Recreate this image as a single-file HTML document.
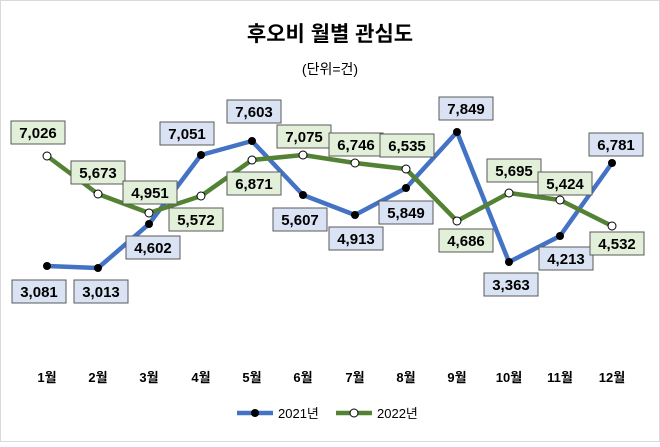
<!DOCTYPE html>
<html><head><meta charset="utf-8"><style>
body{margin:0;background:#fff}
svg text{font-family:"Liberation Sans","Noto Sans CJK KR",sans-serif}
</style></head><body>
<svg width="660" height="442" viewBox="0 0 660 442" xmlns="http://www.w3.org/2000/svg">
<rect x="0.5" y="0.5" width="659" height="441" fill="#fff" stroke="#d9d9d9"/>
<text x="330" y="41" text-anchor="middle" font-size="21" font-weight="bold" fill="#000">후오비 월별 관심도</text>
<text x="330" y="74" text-anchor="middle" font-size="14" fill="#000">(단위=건)</text>
<polyline fill="none" stroke="#4472c4" stroke-width="4.5" stroke-linejoin="round" points="47,266 98,268 149,224 201,155 252,141 303,195 355,215 406,188 457,132 509,262 560,236 612,163"/>
<polyline fill="none" stroke="#548235" stroke-width="4.5" stroke-linejoin="round" points="47,156 98,194 149,213 201,196 252,160 303,155 355,163 406,169 457,221 509,193 560,200 612,226"/>
<g fill="#000">
<circle cx="47" cy="266" r="4"/><circle cx="98" cy="268" r="4"/><circle cx="149" cy="224" r="4"/><circle cx="201" cy="155" r="4"/><circle cx="252" cy="141" r="4"/><circle cx="303" cy="195" r="4"/><circle cx="355" cy="215" r="4"/><circle cx="406" cy="188" r="4"/><circle cx="457" cy="132" r="4"/><circle cx="509" cy="262" r="4"/><circle cx="560" cy="236" r="4"/><circle cx="612" cy="163" r="4"/>
</g>
<g fill="#fff" stroke="#000" stroke-width="1">
<circle cx="47" cy="156" r="4"/><circle cx="98" cy="194" r="4"/><circle cx="149" cy="213" r="4"/><circle cx="201" cy="196" r="4"/><circle cx="252" cy="160" r="4"/><circle cx="303" cy="155" r="4"/><circle cx="355" cy="163" r="4"/><circle cx="406" cy="169" r="4"/><circle cx="457" cy="221" r="4"/><circle cx="509" cy="193" r="4"/><circle cx="560" cy="200" r="4"/><circle cx="612" cy="226" r="4"/>
</g>
<g font-size="15" font-weight="bold" text-anchor="middle" fill="#000">
<g><rect x="12" y="280" width="54" height="23" fill="#dae3f3" stroke="#595959"/><text x="39" y="297">3,081</text></g>
<g><rect x="74" y="280" width="54" height="23" fill="#dae3f3" stroke="#595959"/><text x="101" y="297">3,013</text></g>
<g><rect x="126" y="236" width="54" height="23" fill="#dae3f3" stroke="#595959"/><text x="153" y="253">4,602</text></g>
<g><rect x="160" y="122" width="54" height="23" fill="#dae3f3" stroke="#595959"/><text x="187" y="139">7,051</text></g>
<g><rect x="227" y="100" width="54" height="23" fill="#dae3f3" stroke="#595959"/><text x="254" y="117">7,603</text></g>
<g><rect x="273" y="208" width="54" height="23" fill="#dae3f3" stroke="#595959"/><text x="300" y="225">5,607</text></g>
<g><rect x="329" y="227" width="54" height="23" fill="#dae3f3" stroke="#595959"/><text x="356" y="244">4,913</text></g>
<g><rect x="379" y="201" width="54" height="23" fill="#dae3f3" stroke="#595959"/><text x="406" y="218">5,849</text></g>
<g><rect x="439" y="97" width="54" height="23" fill="#dae3f3" stroke="#595959"/><text x="466" y="114">7,849</text></g>
<g><rect x="484" y="273" width="54" height="23" fill="#dae3f3" stroke="#595959"/><text x="511" y="290">3,363</text></g>
<g><rect x="539" y="247" width="54" height="23" fill="#dae3f3" stroke="#595959"/><text x="566" y="264">4,213</text></g>
<g><rect x="589" y="133" width="54" height="23" fill="#dae3f3" stroke="#595959"/><text x="616" y="150">6,781</text></g>
<g><rect x="11" y="121" width="54" height="23" fill="#e2f0d9" stroke="#595959"/><text x="38" y="138">7,026</text></g>
<g><rect x="71" y="161" width="54" height="23" fill="#e2f0d9" stroke="#595959"/><text x="98" y="178">5,673</text></g>
<g><rect x="123" y="181" width="54" height="23" fill="#e2f0d9" stroke="#595959"/><text x="150" y="198">4,951</text></g>
<g><rect x="169" y="208" width="54" height="23" fill="#e2f0d9" stroke="#595959"/><text x="196" y="225">5,572</text></g>
<g><rect x="227" y="172" width="54" height="23" fill="#e2f0d9" stroke="#595959"/><text x="254" y="189">6,871</text></g>
<g><rect x="277" y="125" width="54" height="23" fill="#e2f0d9" stroke="#595959"/><text x="304" y="142">7,075</text></g>
<g><rect x="329" y="133" width="54" height="23" fill="#e2f0d9" stroke="#595959"/><text x="356" y="150">6,746</text></g>
<g><rect x="380" y="134" width="54" height="23" fill="#e2f0d9" stroke="#595959"/><text x="407" y="151">6,535</text></g>
<g><rect x="439" y="229" width="54" height="23" fill="#e2f0d9" stroke="#595959"/><text x="466" y="246">4,686</text></g>
<g><rect x="487" y="159" width="54" height="23" fill="#e2f0d9" stroke="#595959"/><text x="514" y="176">5,695</text></g>
<g><rect x="538" y="172" width="54" height="23" fill="#e2f0d9" stroke="#595959"/><text x="565" y="189">5,424</text></g>
<g><rect x="590" y="232" width="54" height="23" fill="#e2f0d9" stroke="#595959"/><text x="617" y="249">4,532</text></g>
</g>
<g font-size="13" font-weight="bold" text-anchor="middle" fill="#000">
<text x="47" y="382">1월</text><text x="98" y="382">2월</text><text x="149" y="382">3월</text><text x="201" y="382">4월</text><text x="252" y="382">5월</text><text x="303" y="382">6월</text><text x="355" y="382">7월</text><text x="406" y="382">8월</text><text x="457" y="382">9월</text><text x="509" y="382">10월</text><text x="560" y="382">11월</text><text x="612" y="382">12월</text>
</g>
<line x1="237" y1="413" x2="273" y2="413" stroke="#4472c4" stroke-width="4.5"/>
<circle cx="255" cy="413" r="4" fill="#000"/>
<text x="278" y="418" font-size="13" fill="#000">2021년</text>
<line x1="336" y1="413" x2="372" y2="413" stroke="#548235" stroke-width="4.5"/>
<circle cx="354" cy="413" r="4" fill="#fff" stroke="#000"/>
<text x="377" y="418" font-size="13" fill="#000">2022년</text>
</svg>
</body></html>
